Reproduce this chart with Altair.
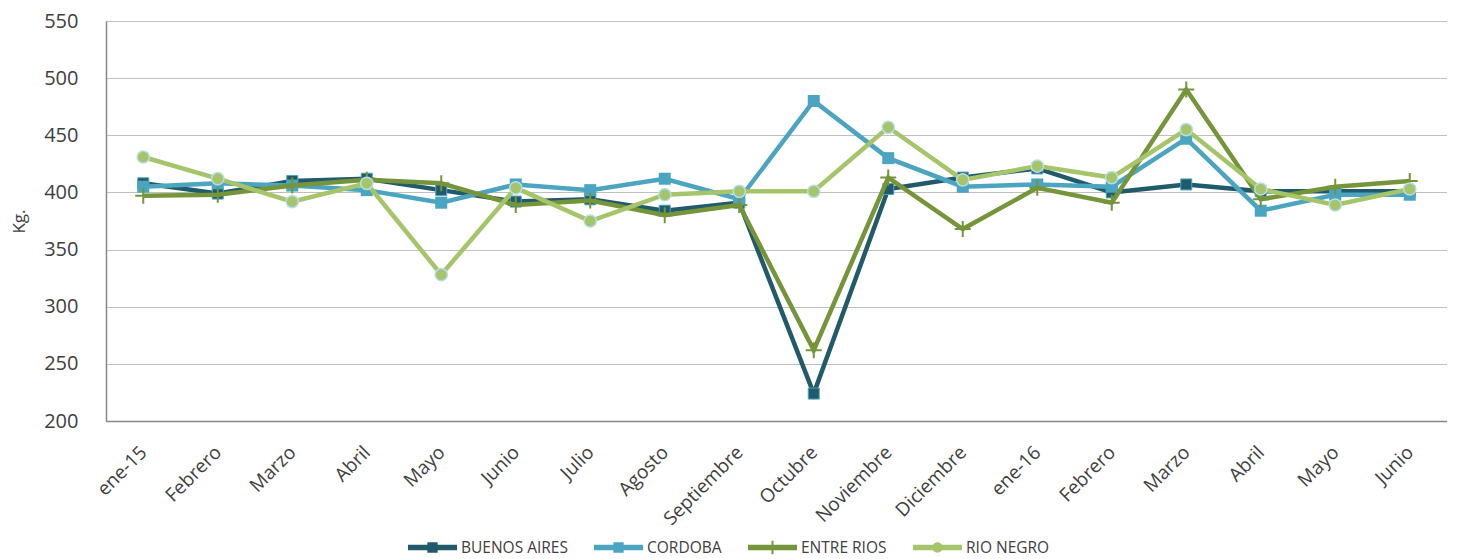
import altair as alt
import pandas as pd

months = ["ene-15", "Febrero", "Marzo", "Abril", "Mayo", "Junio", "Julio", "Agosto",
          "Septiembre", "Octubre", "Noviembre", "Diciembre", "ene-16", "Febrero",
          "Marzo", "Abril", "Mayo", "Junio"]
series_names = ["BUENOS AIRES", "CORDOBA", "ENTRE RIOS", "RIO NEGRO"]

buenos_aires = [408, 399, 410, 412, 402, 392, 394, 384, 391, 224, 403, 413, 421, 400, 407, 401, 401, 401]
cordoba = [405, 408, 406, 402, 391, 407, 402, 412, 394, 480, 430, 405, 407, 405, 447, 384, 398, 398]
entre_rios = [397, 398, 406, 411, 408, 389, 393, 380, 389, 262, 413, 368, 404, 391, 490, 394, 405, 410]
rio_negro = [431, 412, 392, 408, 328, 404, 375, 398, 401, 401, 457, 411, 423, 413, 455, 403, 389, 403]

y_ticks = [200, 250, 300, 350, 400, 450, 500, 550]
colors = ["#215A6B", "#4BA5C0", "#76953A", "#A6C56A"]

rows = []
for name, vals in zip(series_names, [buenos_aires, cordoba, entre_rios, rio_negro]):
    for i, v in enumerate(vals):
        rows.append({"i": i, "serie": name, "valor": v})
df = pd.DataFrame(rows)

label_expr = "[" + ",".join("'" + m + "'" for m in months) + "][datum.value]"

x = alt.X("i:O", title=None, scale=alt.Scale(padding=0.5),
          axis=alt.Axis(labelExpr=label_expr, labelAngle=-45, labelAlign="right",
                        labelBaseline="middle", ticks=False, labelPadding=28,
                        domainColor="#868686", domainWidth=1.5, grid=False,
                        labelFontSize=19, labelColor="#404040", labelFont="Open Sans"))
y = alt.Y("valor:Q", title="Kg.",
          scale=alt.Scale(domain=[200, 550], nice=False, zero=False),
          axis=alt.Axis(values=y_ticks, ticks=False, labelPadding=28,
                        domainColor="#868686", domainWidth=1.5,
                        gridColor="#BFBFBF", gridWidth=1,
                        labelFontSize=20, labelColor="#404040", labelFont="Open Sans",
                        titleFontSize=17, titleFontWeight="normal", titleColor="#404040",
                        titleFont="Open Sans", titlePadding=15))

base = alt.Chart(df)
layers = []

marker_styles = [
    dict(shape="square", filled=True, color=colors[0], stroke="#4BA5C0", strokeWidth=1, size=121, opacity=1),
    dict(shape="square", filled=True, color=colors[1], strokeWidth=0, size=144, opacity=1),
    dict(shape="M-1,0H1M0,-1V1", filled=False, color=colors[2], strokeWidth=2, size=256, opacity=1),
    dict(shape="circle", filled=True, color=colors[3], stroke="#B7DDE8", strokeWidth=1.5, size=150, opacity=1),
]

for name, col, ms in zip(series_names, colors, marker_styles):
    sub = base.transform_filter(alt.datum.serie == name)
    layers.append(sub.mark_line(color=col, strokeWidth=4.5).encode(x=x, y=y))
    layers.append(sub.mark_point(**ms).encode(x=x, y=y))

bar = "M-1,-0.11H1V0.11H-1Z"
legend_paths = [
    bar + "M-0.21,-0.21H0.21V0.21H-0.21Z",
    bar + "M-0.21,-0.21H0.21V0.21H-0.21Z",
    bar + "M-0.04,-0.28H0.04V0.28H-0.04Z",
    bar + "M-0.21,0A0.21,0.21 0 1,1 0.21,0A0.21,0.21 0 1,1 -0.21,0Z",
]

leg = alt.Legend(title=None, orient="none", legendX=302, legendY=502,
                 direction="horizontal", columns=4, symbolSize=2401,
                 symbolStrokeWidth=0, symbolOpacity=1, labelFontSize=15.5,
                 labelFont="Open Sans", labelColor="#404040", columnPadding=26,
                 labelOffset=4)

legend_layer = base.transform_filter("datum.valor < 0").mark_point(filled=True, opacity=1).encode(
    x=x, y=y,
    color=alt.Color("serie:N", scale=alt.Scale(domain=series_names, range=colors), legend=leg),
    shape=alt.Shape("serie:N", scale=alt.Scale(domain=series_names, range=legend_paths), legend=leg),
)
layers.append(legend_layer)

chart = alt.layer(*layers).properties(
    width=1341, height=400,
    padding={"left": 98, "top": 13, "right": 0, "bottom": 138},
    autosize=alt.AutoSizeParams(type="none"),
).configure_view(stroke=None).configure(font="Open Sans")

chart.save("out.html", embed_options={"renderer": "svg", "actions": False})
